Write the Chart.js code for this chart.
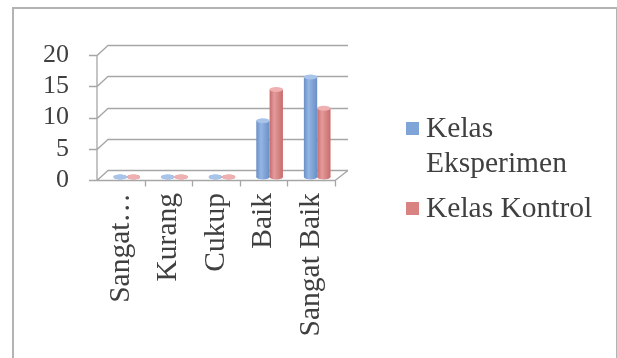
<!DOCTYPE html>
<html>
<head>
<meta charset="utf-8">
<script src="https://cdn.jsdelivr.net/npm/chart.js@4.4.1/dist/chart.umd.min.js"></script>
<style>
  html, body { margin: 0; padding: 0; background: #fff; overflow: hidden; }
  #wrap { position: relative; width: 617px; height: 358px; }
  #frame { position: absolute; left: 12px; top: 7px; width: 602px; height: 400px;
           border: 2px solid #b3b3b3; border-bottom: none; }
  canvas { position: absolute; left: 0; top: 0; }
  .leg { position: absolute; font-family: "Liberation Serif", "Times New Roman", serif;
         font-size: 29.5px; line-height: 35px; color: #404040; white-space: nowrap; }
  .sq { position: absolute; width: 13px; height: 13px; }
</style>
</head>
<body>
<div id="wrap">
  <div id="frame"></div>
  <canvas id="chart" width="617" height="358"></canvas>
  <div class="sq" style="left:406px; top:122px; background:#7ea4d8;"></div>
  <div class="leg" style="left:426px; top:110px;">Kelas<br>Eksperimen</div>
  <div class="sq" style="left:406px; top:202px; background:#d98282;"></div>
  <div class="leg" style="left:426px; top:190px;">Kelas Kontrol</div>
</div>
<script>
const categories = ['Sangat Kurang', 'Kurang', 'Cukup', 'Baik', 'Sangat Baik'];
const eksperimen = [0, 0, 0, 9, 16];
const kontrol = [0, 0, 0, 14, 11];
const yTicks = [0, 5, 10, 15, 20];

const DX = 11, DY = 10;          // depth of the back wall
const BX = 6, BY = -3;           // bars sit half way into the floor
const gridCol = '#a6a6a6';

// back wall, floor and axis lines
const framePlugin = {
  id: 'frame3d',
  beforeDatasetsDraw(chart) {
    const ctx = chart.ctx;
    const xs = chart.scales.x, ys = chart.scales.y;
    const L = xs.left, R = xs.right;
    ctx.save();
    ctx.strokeStyle = gridCol;
    ctx.lineWidth = 1.3;
    ctx.beginPath();
    yTicks.forEach(v => {
      const y = Math.round(ys.getPixelForValue(v)) + 0.5;
      ctx.moveTo(L - 8, y);
      ctx.lineTo(L, y);
      ctx.lineTo(L + DX, y - DY);
      ctx.lineTo(R + DX + 2, y - DY);
    });
    const y0 = Math.round(ys.getPixelForValue(0)) + 0.5;
    const yTop = Math.round(ys.getPixelForValue(20)) + 0.5;
    ctx.moveTo(L, yTop);
    ctx.lineTo(L, y0);
    ctx.lineTo(R, y0);
    ctx.lineTo(R + DX + 2, y0 - DY);
    const step = (R - L) / categories.length;
    for (let i = 1; i <= categories.length; i++) {
      const x = Math.round(L + i * step) + 0.5;
      ctx.moveTo(x, y0);
      ctx.lineTo(x, y0 + 6);
    }
    ctx.stroke();
    ctx.restore();

    // cylinder shading, one options object per bar
    chart.data.datasets.forEach((ds, di) => {
      chart.getDatasetMeta(di).data.forEach(el => {
        const g = ctx.createLinearGradient(el.x - el.width / 2, 0, el.x + el.width / 2, 0);
        g.addColorStop(0, ds.edge);
        g.addColorStop(0.35, ds.mid);
        g.addColorStop(1, ds.edge);
        el.options = Object.assign({}, el.options, { backgroundColor: g });
      });
    });
    ctx.save();
    ctx.translate(BX, BY);
  },
  afterDatasetsDraw(chart) {
    const ctx = chart.ctx;
    chart.data.datasets.forEach((ds, di) => {
      chart.getDatasetMeta(di).data.forEach(el => {
        const rx = el.width / 2, ry = 2.5;
        ctx.fillStyle = el.options.backgroundColor;
        ctx.beginPath();
        ctx.ellipse(el.x, el.base, rx, ry, 0, 0, Math.PI * 2);
        ctx.fill();
        ctx.fillStyle = ds.top;
        ctx.beginPath();
        ctx.ellipse(el.x, el.y, rx, ry, 0, 0, Math.PI * 2);
        ctx.fill();
      });
    });
    ctx.restore();
  }
};

new Chart(document.getElementById('chart'), {
  type: 'bar',
  data: {
    labels: categories,
    datasets: [
      { label: 'Kelas Eksperimen', data: eksperimen, backgroundColor: '#7ea4d8',
        mid: '#94b6e5', edge: '#6a8fc6', top: '#a9c4ea', clip: false },
      { label: 'Kelas Kontrol', data: kontrol, backgroundColor: '#d98282',
        mid: '#e49b9b', edge: '#c76c6c', top: '#eeb0b0', clip: false }
    ]
  },
  options: {
    responsive: false,
    animation: false,
    layout: { padding: { left: 0, top: 55, right: 282, bottom: 0 } },
    datasets: { bar: { categoryPercentage: 0.56, barPercentage: 1.0 } },
    plugins: { legend: { display: false }, tooltip: { enabled: false } },
    scales: {
      x: {
        grid: { display: false, drawTicks: false },
        border: { display: false },
        ticks: {
          autoSkip: false, minRotation: 90, maxRotation: 90, padding: 13,
          color: '#404040',
          font: { family: '"Liberation Serif", serif', size: 29.5 },
          callback: function (v) {
            const s = this.getLabelForValue(v);
            return s.length > 11 ? s.split(' ')[0] + '…' : s;
          }
        },
        afterFit: s => { s.height = 178; }
      },
      y: {
        min: 0, max: 20,
        grid: { display: false, drawTicks: false },
        border: { display: false },
        ticks: {
          stepSize: 5, autoSkip: false, padding: 28, color: '#404040',
          font: { family: '"Liberation Serif", serif', size: 26 }
        },
        afterFit: s => { s.width = 97; }
      }
    }
  },
  plugins: [framePlugin]
});
</script>
</body>
</html>
